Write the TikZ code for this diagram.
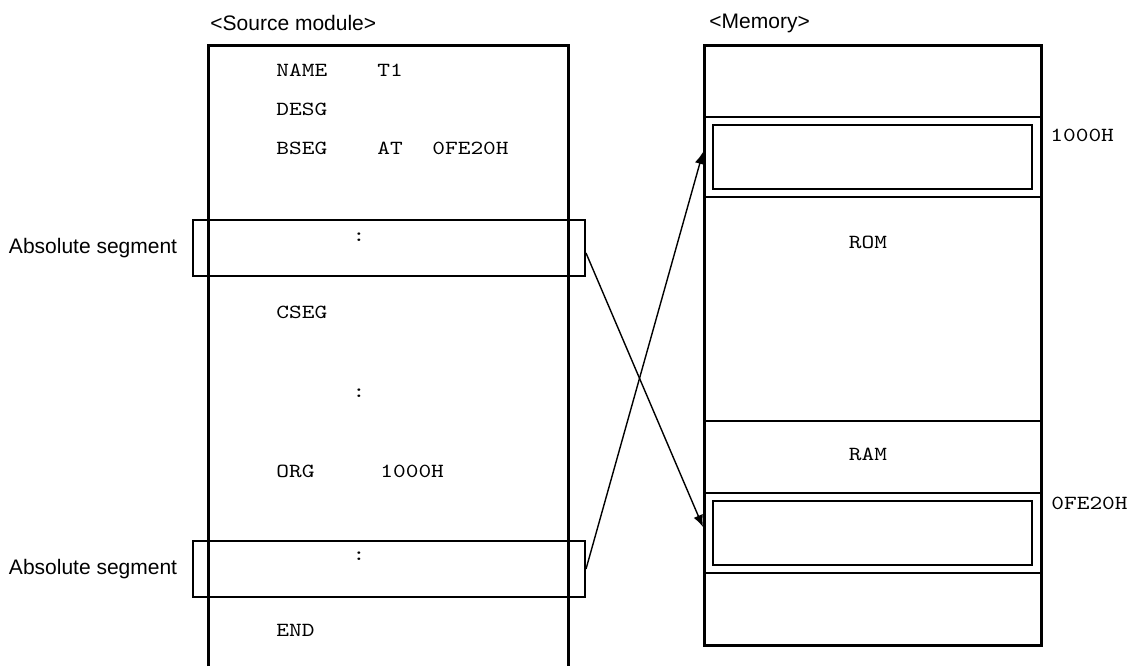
\documentclass[tikz,border=0pt]{standalone}
\usepackage{fontspec}
\setmainfont{Liberation Sans}
\newfontfamily\codefont{lmmono10-regular.otf}[FakeStretch=1.21]
\usepackage{tikz}
\usetikzlibrary{arrows.meta, positioning}

\begin{document}
\begin{tikzpicture}[
    x=0.5pt, y=-0.5pt,
    title/.style={font=\fontsize{10.5}{12}\selectfont, inner sep=0pt, anchor=west},
    code/.style={font=\codefont\fontsize{10}{12}\selectfont, inner sep=0pt, anchor=west},
    segbox/.style={rectangle, draw, line width=1pt, minimum width=196.25pt, minimum height=28pt, inner sep=0pt},
    band/.style={rectangle, draw, line width=1pt, minimum width=168.5pt, inner sep=0pt},
    inbox/.style={rectangle, draw, line width=1pt, minimum width=159.5pt, minimum height=32pt, inner sep=0pt},
    arrow/.style={-{Latex[length=6pt, width=5pt]}, line width=0.7pt},
]
\useasboundingbox (0,0) rectangle (1127,666);

% source module
\node[title] (srctitle) at (210,23) {<Source module>};
\draw[line width=1.5pt] (208,666) -- (208,45) -- (568,45) -- (568,666);

\node[code] (name) at (276,70) {NAME};
\node[code] (nameval) at (377,70) {T1};
\node[code] (desg) at (276,109) {DESG};
\node[code] (bseg) at (276,148) {BSEG};
\node[code] (bsegat) at (377,148) {AT};
\node[code] (bsegaddr) at (432,148) {0FE20H};
\node[code, anchor=center] (dots1) at (359,237) {:};
\node[code] (cseg) at (276,312) {CSEG};
\node[code, anchor=center] (dots2) at (359,393) {:};
\node[code] (org) at (276,471) {ORG};
\node[code] (orgaddr) at (380,471) {1000H};
\node[code, anchor=center] (dots3) at (359,556) {:};
\node[code] (end) at (276,630) {END};

% absolute segments
\node[segbox] (abs1) at (388.75,248) {};
\node[segbox] (abs2) at (388.75,569) {};
\node[title, anchor=east, left=7pt of abs1] (abs1lbl) {Absolute segment};
\node[title, anchor=east, left=7pt of abs2] (abs2lbl) {Absolute segment};

% memory
\node[title] (memtitle) at (709,23) {<Memory>};
\node[band, minimum height=36pt] (memtop) at (872.5,81) {};
\node[band, minimum height=40pt] (memseg1) at (872.5,157) {};
\node[band, minimum height=112pt] (memrom) at (872.5,309) {};
\node[band, minimum height=36pt] (memram) at (872.5,457) {};
\node[band, minimum height=40pt] (memseg2) at (872.5,533) {};
\node[band, minimum height=36pt] (membot) at (872.5,609) {};
\node[draw, line width=1.5pt, minimum width=168.5pt, minimum height=300pt, inner sep=0pt] (memory) at (872.5,345) {};

\node[inbox] (seg1000) at (872.5,157) {};
\node[inbox] (segfe20) at (872.5,533) {};
\node[code, anchor=center] (rom) at (868,242) {ROM};
\node[code, anchor=center] (ram) at (868,454) {RAM};
\node[code] (addr1000) at (1050,135) {1000H};
\node[code] (addrfe20) at (1051,503) {0FE20H};

% mapping
\draw[arrow] ([yshift=-2.5pt]abs1.east) -- ([yshift=3pt]memseg2.west);
\draw[arrow] (abs2.east) -- ([yshift=2.5pt]memseg1.west);
\end{tikzpicture}
\end{document}
